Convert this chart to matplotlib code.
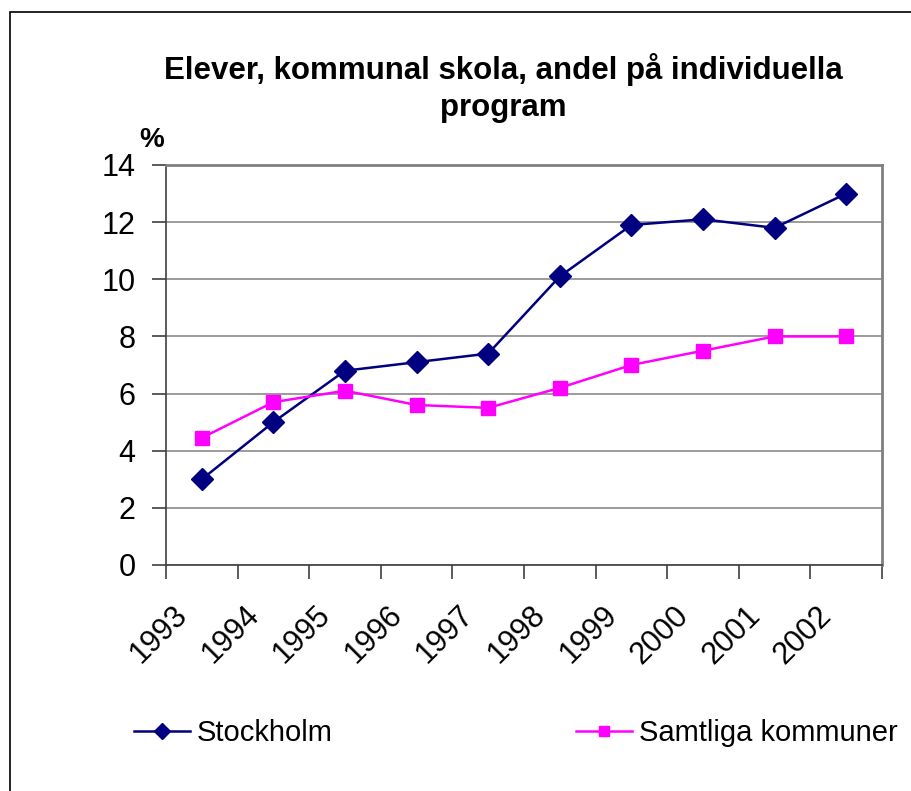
import numpy as np
import matplotlib
matplotlib.use('Agg')
import matplotlib.pyplot as plt
from matplotlib.patches import Rectangle
from matplotlib.transforms import ScaledTranslation

plt.rcParams['font.family'] = ['Liberation Sans', 'DejaVu Sans']

years = ['1993', '1994', '1995', '1996', '1997', '1998', '1999', '2000', '2001', '2002']
stockholm = [3.0, 5.0, 6.8, 7.1, 7.4, 10.1, 11.9, 12.1, 11.8, 13.0]
samtliga = [4.45, 5.7, 6.1, 5.6, 5.5, 6.2, 7.0, 7.5, 8.0, 8.0]

fig = plt.figure(figsize=(9.11, 7.91), dpi=100)
ax = fig.add_axes([166 / 911, 1 - 565 / 791, 716 / 911, 400 / 791])

x = np.arange(len(years))
ax.plot(x, stockholm, color='#000080', lw=1.8, marker='D', ms=11, label='Stockholm', zorder=3)
ax.plot(x, samtliga, color='#FF00FF', lw=1.8, marker='s', ms=10, label='Samtliga kommuner', zorder=3)

ax.set_xlim(-0.5, len(years) - 0.5)
ax.set_ylim(0, 14)
ax.set_yticks(range(0, 15, 2))
ax.yaxis.grid(True, color='#808080', lw=1.1)
ax.set_axisbelow(True)

# category ticks at the boundaries, labels at the centres
ax.set_xticks(x)
ax.set_xticklabels(years, rotation=45, ha='right', va='center', rotation_mode='anchor', fontsize=22)
ax.set_xticks(np.arange(-0.5, len(years)), minor=True)
ax.tick_params(axis='x', which='major', length=0, pad=33)
ax.tick_params(axis='x', which='minor', length=10, width=1.2, color='#404040', direction='out')
ax.tick_params(axis='y', length=10, width=1.2, color='#404040', pad=12, labelsize=22)
for lab in ax.get_xticklabels():
    lab.set_transform(lab.get_transform() + ScaledTranslation(-19 / 100, 0, fig.dpi_scale_trans))

for side in ['top', 'right']:
    ax.spines[side].set_color('#808080')
    ax.spines[side].set_linewidth(2)
for side in ['left', 'bottom']:
    ax.spines[side].set_color('#404040')
    ax.spines[side].set_linewidth(1.2)

fig.text(503 / 911, 1 - 88 / 791, 'Elever, kommunal skola, andel på individuella\nprogram',
         ha='center', va='center', fontsize=22.5, fontweight='bold', linespacing=1.33)
fig.text(152 / 911, 1 - 140 / 791, '%', ha='center', va='center', fontsize=20, fontweight='bold')

fig.legend(loc='center', bbox_to_anchor=(516 / 911, 1 - 733 / 791), ncol=2, frameon=False,
           fontsize=21, handlelength=1.9, handletextpad=0.25, columnspacing=8.35, markerscale=0.7)

fig.patches.append(Rectangle((10 / 911, -0.1), 1.2, 1.1 - 12 / 791, transform=fig.transFigure,
                             fill=False, edgecolor='black', lw=1.2))

fig.savefig('out.png', dpi=100)
